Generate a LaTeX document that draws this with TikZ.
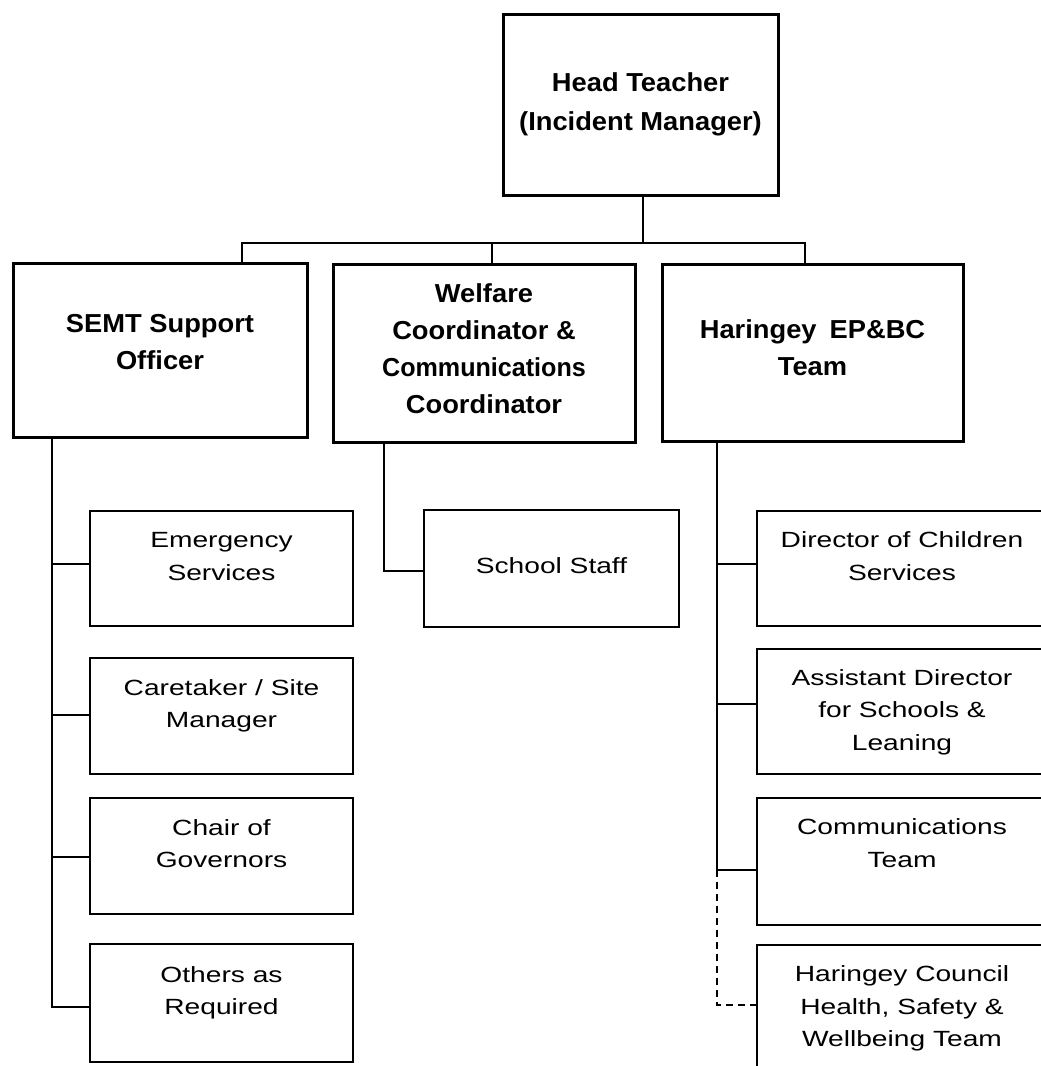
\documentclass[tikz,border=0pt]{standalone}
\usepackage{graphicx}
\usepackage{fontspec}
\setmainfont{Liberation Sans}
\newfontfamily\headfont[FakeStretch=1.05]{Liberation Sans}
\newfontfamily\secfont[FakeStretch=1.05]{Liberation Sans}
\newfontfamily\childfont[FakeStretch=1.28]{Liberation Sans}
% #1 height, #2 width, #3 first-baseline offset from top, #4 text
\newcommand\tbox[4]{\parbox[c][#1pt][t]{#2pt}{\centering\rule{0pt}{#3pt}#4}}
\begin{document}
\begin{tikzpicture}[x=1pt,y=-1pt,
  headbox/.style={draw=black, line width=3pt, inner sep=0pt, fill=white,
    font=\headfont\bfseries\fontsize{26}{39}\selectfont},
  secbox/.style={draw=black, line width=3pt, inner sep=0pt, fill=white,
    font=\secfont\bfseries\fontsize{26}{37}\selectfont},
  childbox/.style={draw=black, line width=2pt, inner sep=0pt, fill=white,
    font=\childfont\fontsize{22}{32.5}\selectfont},
  bus/.style={draw=black, line width=2.5pt, line join=miter},
  link/.style={draw=black, line width=2pt, line join=miter},
  dashlink/.style={draw=black, line width=2pt, dash pattern=on 7pt off 5pt}]
\useasboundingbox (0,0) rectangle (1041,1066);
\clip (0,0) rectangle (1041,1066);

% top level
\node[headbox, minimum width=275pt, minimum height=181pt] (head) at (640.5,104.5)
  {\tbox{181}{275}{77}{Head Teacher\\(Incident Manager)}};

% second level
\node[secbox, minimum width=294pt, minimum height=174pt] (semt) at (160,350)
  {\tbox{174}{294}{69}{SEMT Support\\Officer}};
\node[secbox, minimum width=302pt, minimum height=178pt] (welf) at (484,353)
  {\tbox{178}{302}{38}{Welfare\\Coordinator \&\\\scalebox{0.92}[1]{Communications}\\Coordinator}};
\node[secbox, minimum width=301pt, minimum height=177pt] (har) at (812.5,352.5)
  {\tbox{177}{301}{74.5}{Haringey\hspace{13pt}EP\&BC\\Team}};

% children of SEMT
\node[childbox, minimum width=263pt, minimum height=115pt] (em) at (221.5,568.5)
  {\tbox{115}{263}{36.5}{Emergency\\Services}};
\node[childbox, minimum width=263pt, minimum height=116pt] (care) at (221.5,716)
  {\tbox{116}{263}{37}{Caretaker / Site\\Manager}};
\node[childbox, minimum width=263pt, minimum height=116pt] (chair) at (221.5,856)
  {\tbox{116}{263}{37}{Chair of\\Governors}};
\node[childbox, minimum width=263pt, minimum height=118pt] (oth) at (221.5,1003)
  {\tbox{118}{263}{38}{Others as\\Required}};

% child of Welfare
\node[childbox, minimum width=255pt, minimum height=117pt] (sch) at (551.5,568.5)
  {\tbox{117}{255}{63}{School Staff}};

% children of Haringey team
\node[childbox, minimum width=290pt, minimum height=115pt] (dir) at (902,568.5)
  {\tbox{115}{290}{36.5}{Director of Children\\Services}};
\node[childbox, minimum width=290pt, minimum height=125pt] (asst) at (902,711.5)
  {\tbox{125}{290}{36}{Assistant Director\\for Schools \&\\Leaning}};
\node[childbox, minimum width=290pt, minimum height=127pt] (comm) at (902,861.5)
  {\tbox{127}{290}{36.5}{Communications\\Team}};
\node[childbox, minimum width=290pt, minimum height=130pt] (cou) at (902,1010)
  {\tbox{130}{290}{36.7}{Haringey Council\\Health, Safety \&\\Wellbeing Team}};

% junction coordinates
\coordinate (j0) at (643,243);
\coordinate (j1) at (242,243);
\coordinate (j2) at (492,243);
\coordinate (j3) at (805,243);
\coordinate (lsp) at (52,0);
\coordinate (wsp) at (384,0);
\coordinate (rsp) at (717,0);
\coordinate (em-in) at ([yshift=4.5pt]em.west);
\coordinate (care-in) at ([yshift=1pt]care.west);
\coordinate (chair-in) at ([yshift=-1pt]chair.west);
\coordinate (oth-in) at ([yshift=-4pt]oth.west);
\coordinate (sch-in) at ([yshift=-2.5pt]sch.west);
\coordinate (dir-in) at ([yshift=4.5pt]dir.west);
\coordinate (asst-in) at ([yshift=7.5pt]asst.west);
\coordinate (comm-in) at ([yshift=-8.5pt]comm.west);
\coordinate (cou-in) at ([yshift=5pt]cou.west);

% top bus
\draw[bus] (j0 |- head.south) -- (j0);
\draw[bus] (j1 |- semt.north) -- (j1) -- (j3) -- (j3 |- har.north);
\draw[bus] (j2) -- (j2 |- welf.north);

% SEMT spine
\draw[link] (lsp |- semt.south) -- (lsp |- oth-in) -- (oth-in);
\draw[link] (lsp |- em-in) -- (em-in);
\draw[link] (lsp |- care-in) -- (care-in);
\draw[link] (lsp |- chair-in) -- (chair-in);

% Welfare spine
\draw[link] (wsp |- welf.south) -- (wsp |- sch-in) -- (sch-in);

% Haringey spine
\draw[link] (rsp |- har.south) -- (rsp |- comm-in) -- (comm-in);
\draw[link] (rsp |- dir-in) -- (dir-in);
\draw[link] (rsp |- asst-in) -- (asst-in);
\draw[dashlink] (rsp |- comm-in) -- (rsp |- cou-in) -- (cou-in);
\end{tikzpicture}
\end{document}
